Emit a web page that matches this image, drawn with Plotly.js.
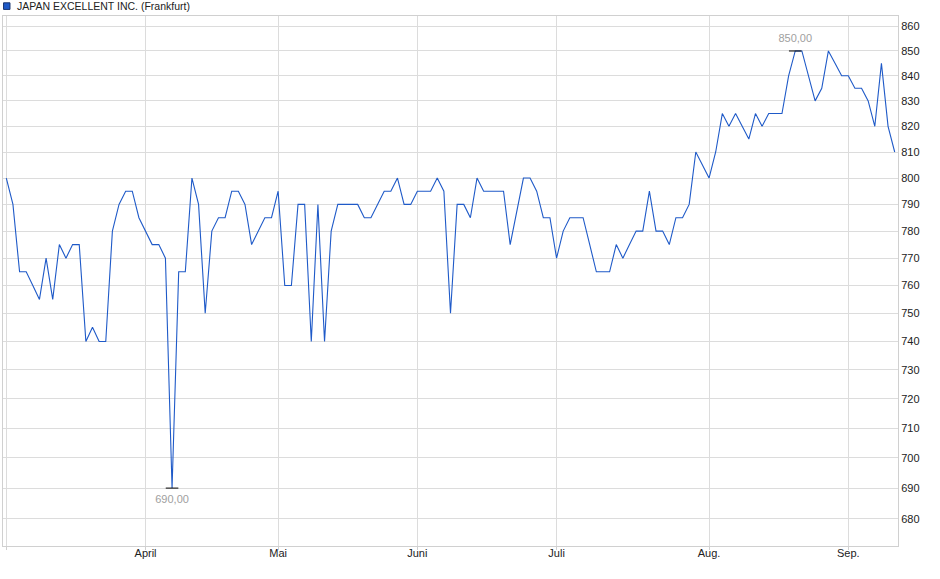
<!DOCTYPE html>
<html>
<head>
<meta charset="utf-8">
<script src="https://cdn.plot.ly/plotly-3.0.1.min.js"></script>
<style>
html,body{margin:0;padding:0;background:#fff;}
#chart{width:940px;height:579px;}
</style>
</head>
<body>
<div id="chart"></div>
<script>
// ---- data ----
const seriesName = "JAPAN EXCELLENT INC. (Frankfurt)";

const tradeDates = [
 "2025-03-03","2025-03-04","2025-03-05","2025-03-06","2025-03-07",
 "2025-03-10","2025-03-11","2025-03-12","2025-03-13","2025-03-14",
 "2025-03-17","2025-03-18","2025-03-19","2025-03-20","2025-03-21",
 "2025-03-24","2025-03-25","2025-03-26","2025-03-27","2025-03-28",
 "2025-03-31",
 "2025-04-01","2025-04-02","2025-04-03","2025-04-04",
 "2025-04-07","2025-04-08","2025-04-09","2025-04-10","2025-04-11",
 "2025-04-14","2025-04-15","2025-04-16","2025-04-17",
 "2025-04-22","2025-04-23","2025-04-24","2025-04-25",
 "2025-04-28","2025-04-29","2025-04-30",
 "2025-05-02",
 "2025-05-05","2025-05-06","2025-05-07","2025-05-08","2025-05-09",
 "2025-05-12","2025-05-13","2025-05-14","2025-05-15","2025-05-16",
 "2025-05-19","2025-05-20","2025-05-21","2025-05-22","2025-05-23",
 "2025-05-26","2025-05-27","2025-05-28","2025-05-29","2025-05-30",
 "2025-06-02","2025-06-03","2025-06-04","2025-06-05","2025-06-06",
 "2025-06-09","2025-06-10","2025-06-11","2025-06-12","2025-06-13",
 "2025-06-16","2025-06-17","2025-06-18","2025-06-19","2025-06-20",
 "2025-06-23","2025-06-24","2025-06-25","2025-06-26","2025-06-27",
 "2025-06-30",
 "2025-07-01","2025-07-02","2025-07-03","2025-07-04",
 "2025-07-07","2025-07-08","2025-07-09","2025-07-10","2025-07-11",
 "2025-07-14","2025-07-15","2025-07-16","2025-07-17","2025-07-18",
 "2025-07-21","2025-07-22","2025-07-23","2025-07-24","2025-07-25",
 "2025-07-28","2025-07-29","2025-07-30","2025-07-31",
 "2025-08-01",
 "2025-08-04","2025-08-05","2025-08-06","2025-08-07","2025-08-08",
 "2025-08-11","2025-08-12","2025-08-13","2025-08-14","2025-08-15",
 "2025-08-18","2025-08-19","2025-08-20","2025-08-21","2025-08-22",
 "2025-08-25","2025-08-26","2025-08-27","2025-08-28","2025-08-29",
 "2025-09-01","2025-09-02","2025-09-03","2025-09-04","2025-09-05",
 "2025-09-08","2025-09-09","2025-09-10"
];

const prices = [
 800,790,765,765,760,755,770,755,775,770,
 775,775,740,745,740,740,780,790,795,795,
 785,
 780,775,775,770,690,765,765,800,790,750,
 780,785,785,795,795,790,775,780,785,785,
 795,760,760,790,790,740,790,740,780,790,
 790,790,790,785,785,790,795,795,800,790,
 790,
 795,795,795,800,795,750,790,790,785,800,
 795,795,795,795,775,788,800,800,795,785,
 785,
 770,780,785,785,785,775,765,765,765,775,
 770,775,780,780,795,780,780,775,785,785,
 790,810,805,
 800,810,825,820,825,820,815,825,820,825,
 825,825,840,850,850,840,830,835,850,845,
 840,
 840,835,835,830,820,845,820,810
];

const monthLabels = ["", "April", "Mai", "Juni", "Juli", "Aug.", "Sep."];
const yTicks = [680,690,700,710,720,730,740,750,760,770,780,790,800,810,820,830,840,850,860];

// ---- derived ----
const monthStarts = [];
tradeDates.forEach(function(d, i){
  if (i === 0 || d.slice(0,7) !== tradeDates[i-1].slice(0,7)) monthStarts.push(d);
});
const fmt = function(v){ return v.toFixed(2).replace('.', ','); };
let iMin = 0, iMax = 0;
prices.forEach(function(v, i){
  if (v < prices[iMin]) iMin = i;
  if (v > prices[iMax]) iMax = i;
});

const lineColor = "#1f5ac8";
const fontFam = "Liberation Sans, Arial, sans-serif";

const traces = [
  {
    type: "scatter", mode: "lines",
    x: tradeDates, y: prices,
    line: {color: lineColor, width: 1.1},
    hoverinfo: "skip"
  },
  {
    type: "scatter", mode: "markers+text",
    x: [tradeDates[iMin]], y: [prices[iMin]],
    marker: {symbol: "line-ew", size: 9, color: "#000", line: {color: "#000", width: 1}},
    text: [fmt(prices[iMin])], textposition: "bottom center",
    textfont: {family: fontFam, size: 11, color: "#a0a0a0"},
    hoverinfo: "skip"
  },
  {
    type: "scatter", mode: "markers+text",
    x: [tradeDates[iMax]], y: [prices[iMax]],
    marker: {symbol: "line-ew", size: 9, color: "#000", line: {color: "#000", width: 1}},
    text: [fmt(prices[iMax])], textposition: "top center",
    textfont: {family: fontFam, size: 11, color: "#a0a0a0"},
    hoverinfo: "skip"
  }
];

const layout = {
  width: 940, height: 579,
  margin: {l: 3, r: 42, t: 16, b: 33, pad: 0},
  paper_bgcolor: "#ffffff", plot_bgcolor: "#ffffff",
  showlegend: false,
  font: {family: fontFam, size: 11, color: "#222"},
  xaxis: {
    type: "category",
    range: [-0.5, tradeDates.length - 0.5],
    tickvals: monthStarts, ticktext: monthLabels,
    tickangle: 0,
    showgrid: true, gridcolor: "#dcdcdc", gridwidth: 1,
    ticks: "outside", ticklen: 3, tickcolor: "#cfcfcf",
    ticklabelstandoff: -6,
    showline: true, linecolor: "#d0d0d0", linewidth: 1, mirror: true,
    zeroline: false, fixedrange: true,
    tickfont: {family: fontFam, size: 11, color: "#222"}
  },
  yaxis: {
    type: "log", side: "right",
    range: [Math.log10(671.2), Math.log10(864.3)],
    tickvals: yTicks, ticktext: yTicks.map(String),
    showgrid: true, gridcolor: "#dcdcdc", gridwidth: 1,
    ticks: "",
    showline: true, linecolor: "#d0d0d0", linewidth: 1, mirror: true,
    zeroline: false, fixedrange: true,
    tickfont: {family: fontFam, size: 11, color: "#222"}
  },
  shapes: [
    {type: "rect", xref: "paper", yref: "paper",
     x0: 0.0006, x1: 0.0078, y0: 1.0124, y1: 1.0249,
     fillcolor: lineColor, line: {color: "#1a3570", width: 1}}
  ],
  annotations: [
    {xref: "paper", yref: "paper", x: 0.0134, y: 1.0189,
     xanchor: "left", yanchor: "middle", showarrow: false,
     text: seriesName,
     font: {family: fontFam, size: 10.5, color: "#222"}}
  ]
};

Plotly.newPlot("chart", traces, layout, {staticPlot: true, displayModeBar: false});
</script>
</body>
</html>
